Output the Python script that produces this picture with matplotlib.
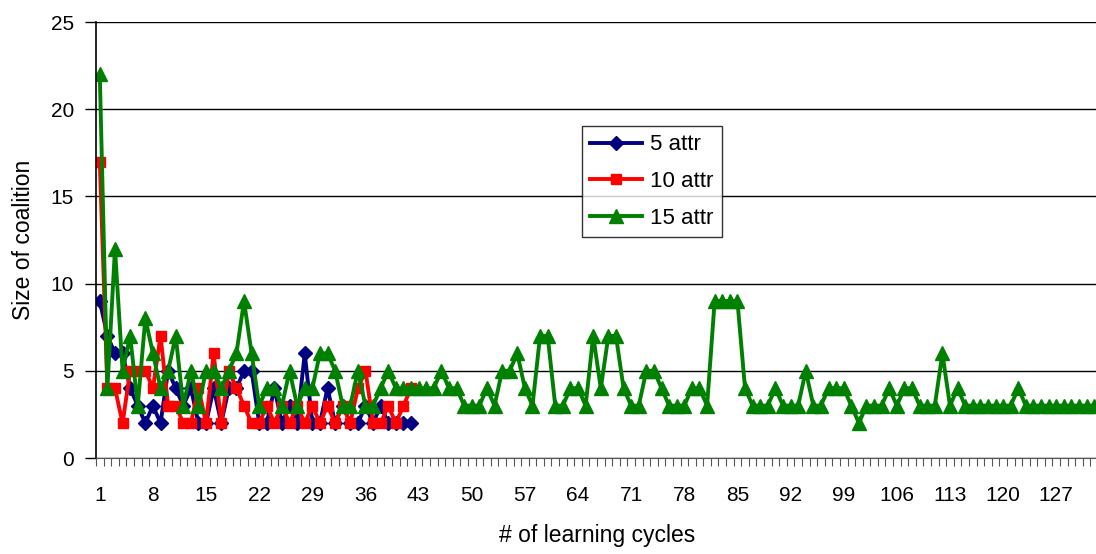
import matplotlib
matplotlib.use("Agg")
from matplotlib import pyplot as plt
from matplotlib.ticker import FixedLocator, NullFormatter
import numpy as np

# 每个学习周期的联盟规模
attr5 = [9, 7, 6, 6, 4, 3, 2, 3, 2, 5, 4, 3, 4, 2, 2, 4, 2, 4, 4, 5,
         5, 2, 2, 4, 2, 3, 2, 6, 2, 2, 4, 2, 3, 2, 2, 3, 2, 3, 2, 2,
         2, 2]
attr10 = [17, 4, 4, 2, 5, 5, 5, 4, 7, 3, 3, 2, 2, 4, 2, 6, 2, 5, 4, 3,
          2, 2, 3, 2, 3, 2, 3, 2, 3, 2, 3, 2, 3, 2, 4, 5, 2, 2, 3, 2,
          3, 4]
attr15 = [22, 4, 12, 5, 7, 3, 8, 6, 4, 5, 7, 3, 5, 3, 5, 5, 4, 5, 6, 9,
          6, 3, 4, 4, 3, 5, 3, 4, 4, 6, 6, 5, 3, 3, 5, 3, 3, 4, 5, 4,
          4, 4, 4, 4, 4, 5, 4, 4, 3, 3, 3, 4, 3, 5, 5, 6, 4, 3, 7, 7,
          3, 3, 4, 4, 3, 7, 4, 7, 7, 4, 3, 3, 5, 5, 4, 3, 3, 3, 4, 4,
          3, 9, 9, 9, 9, 4, 3, 3, 3, 4, 3, 3, 3, 5, 3, 3, 4, 4, 4, 3,
          2, 3, 3, 3, 4, 3, 4, 4, 3, 3, 3, 6, 3, 4, 3, 3, 3, 3, 3, 3,
          3, 4, 3, 3, 3, 3, 3, 3, 3, 3, 3, 3]
labels = ['5 attr', '10 attr', '15 attr']
xtick_labels = list(range(1, 128, 7))

plt.rcParams['font.family'] = ['Liberation Sans', 'DejaVu Sans']

W, H = 1096, 554
fig = plt.figure(figsize=(W / 100, H / 100), dpi=100)
# 绘图区: 左边 96px, 0 在 y=458, 25 在 y=22
ax = fig.add_axes([96 / W, (H - 458) / H, 1002 / W, 436 / H])

n = len(attr15)
ax.plot(range(1, len(attr5) + 1), attr5, color='#000080', lw=2.8,
        marker='D', ms=7.5, label=labels[0])
ax.plot(range(1, len(attr10) + 1), attr10, color='#FF0000', lw=2.8,
        marker='s', ms=7.5, label=labels[1])
ax.plot(range(1, n + 1), attr15, color='#008000', lw=2.8,
        marker='^', ms=10, label=labels[2])

ax.set_xlim(0.5, n + 0.5)
ax.set_ylim(0, 25)
ax.set_yticks(range(0, 26, 5))
ax.yaxis.grid(True, color='black', lw=1)
ax.set_axisbelow(True)

ax.xaxis.set_major_locator(FixedLocator(xtick_labels))
ax.set_xticklabels([str(v) for v in xtick_labels])
ax.xaxis.set_minor_locator(FixedLocator(np.arange(0.5, n + 1, 1)))
ax.xaxis.set_minor_formatter(NullFormatter())
ax.tick_params(axis='x', which='major', length=0, pad=20, labelsize=15)
ax.tick_params(axis='x', which='minor', length=6, color='#555555', width=0.8)
ax.tick_params(axis='y', length=8, width=1, labelsize=15, pad=8)

for s in ['top', 'right']:
    ax.spines[s].set_visible(False)
ax.spines['left'].set_linewidth(1.2)
ax.spines['bottom'].set_color('#555555')

ax.set_xlabel('# of learning cycles', fontsize=16.5, labelpad=14)
ax.set_ylabel('Size of coalition', fontsize=16.5)
ax.yaxis.set_label_coords(-0.061, 0.5)

leg = ax.legend(loc='upper left', frameon=True, fancybox=False,
                edgecolor='black', fontsize=16, handlelength=2.3,
                handletextpad=0.4, borderpad=0.38, labelspacing=0.7,
                borderaxespad=0)
leg.set_bbox_to_anchor((582 / W, 1 - 126 / H), transform=fig.transFigure)
leg.get_frame().set_linewidth(1)

fig.savefig('out.png', dpi=100)
